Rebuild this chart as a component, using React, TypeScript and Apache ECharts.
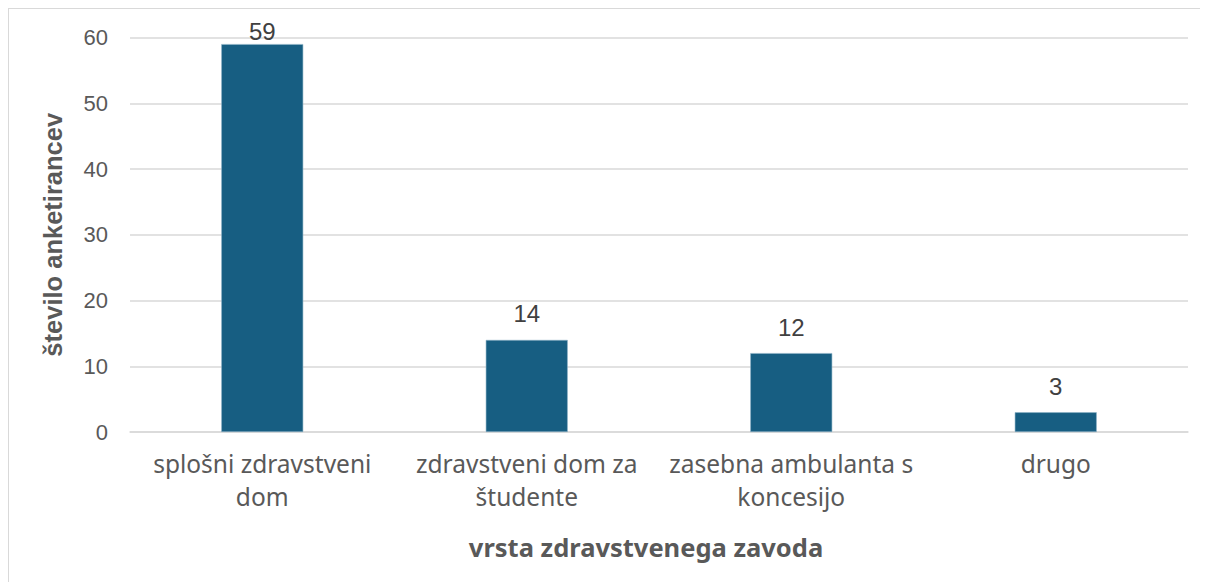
import React, { useEffect, useRef } from "react";
import * as echarts from "echarts";

const categories = [
  "splošni zdravstveni\ndom",
  "zdravstveni dom za\nštudente",
  "zasebna ambulanta s\nkoncesijo",
  "drugo",
];
const counts = [59, 14, 12, 3];
const yTicks = { min: 0, max: 60, interval: 10 };
const xTitle = "vrsta zdravstvenega zavoda";
const yTitle = "število anketirancev";

export default function App() {
  const ref = useRef<HTMLDivElement>(null);
  useEffect(() => {
    if (!ref.current) return;
    const chart = echarts.init(ref.current, undefined, { renderer: "svg" });
    chart.setOption({
      animation: false,
      grid: { left: 121, right: 20, top: 28.5, bottom: 150, containLabel: false },
      xAxis: {
        type: "category",
        data: categories,
        axisLine: { lineStyle: { color: "#d9d9d9", width: 1.5 } },
        axisTick: { show: false },
        axisLabel: {
          color: "#595959",
          fontFamily: "Noto Sans",
          fontSize: 24.5,
          lineHeight: 33,
          margin: 15,
          interval: 0,
        },
        name: xTitle,
        nameLocation: "middle",
        nameGap: 102,
        nameTextStyle: {
          color: "#595959",
          fontFamily: "Noto Sans",
          fontWeight: "bold",
          fontSize: 25.5,
          padding: [0, 26, 0, 0],
        },
      },
      yAxis: {
        type: "value",
        min: yTicks.min,
        max: yTicks.max,
        interval: yTicks.interval,
        axisLine: { show: false },
        axisTick: { show: false },
        splitLine: { lineStyle: { color: "#d9d9d9", width: 1.5 } },
        axisLabel: {
          color: "#595959",
          fontFamily: "Liberation Sans",
          fontSize: 22,
          margin: 22,
        },
        name: yTitle,
        nameLocation: "middle",
        nameGap: 64,
        nameTextStyle: {
          color: "#595959",
          fontFamily: "Liberation Sans",
          fontWeight: "bold",
          fontSize: 25.5,
        },
      },
      series: [
        {
          type: "bar",
          data: counts.map((v) =>
            v > 55 ? { value: v, label: { distance: 1 } } : v
          ),
          barWidth: "31%",
          itemStyle: { color: "#175e82", borderColor: "#8fb3c8", borderWidth: 0.6 },
          label: {
            show: true,
            position: "top",
            distance: 14,
            color: "#404040",
            fontFamily: "Liberation Sans",
            fontSize: 24,
          },
        },
      ],
    });
    return () => chart.dispose();
  }, []);
  return (
    <div
      style={{
        width: 1200,
        height: 574,
        borderTop: "1px solid #d9d9d9",
        borderLeft: "1px solid #d9d9d9",
        boxSizing: "border-box",
      }}
    >
      <div ref={ref} style={{ width: 1199, height: 573 }} />
    </div>
  );
}
